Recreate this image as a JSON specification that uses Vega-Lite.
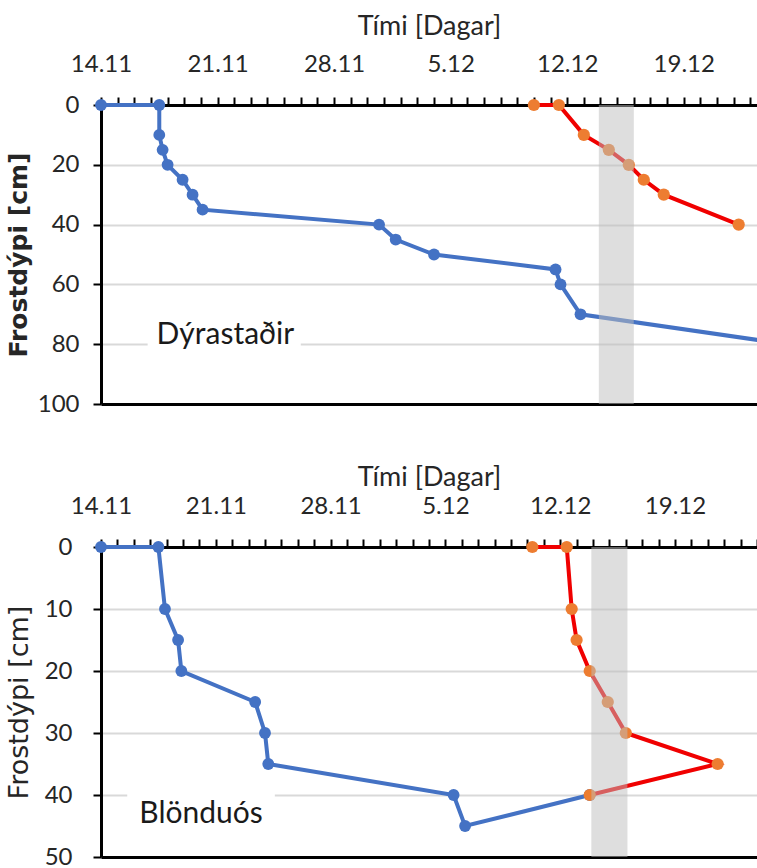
{
  "$schema": "https://vega.github.io/schema/vega-lite/v6.json",
  "padding": {"left": 5, "top": 12, "right": 0, "bottom": 0},
  "background": "white",
  "spacing": 47,
  "datasets": {
    "dyr": [
      {"series": "Frost", "seq": 1, "day": 0, "depth": 0},
      {"series": "Frost", "seq": 2, "day": 3.5, "depth": 0},
      {"series": "Frost", "seq": 3, "day": 3.5, "depth": 10},
      {"series": "Frost", "seq": 4, "day": 3.7, "depth": 15},
      {"series": "Frost", "seq": 5, "day": 4.0, "depth": 20},
      {"series": "Frost", "seq": 6, "day": 4.9, "depth": 25},
      {"series": "Frost", "seq": 7, "day": 5.5, "depth": 30},
      {"series": "Frost", "seq": 8, "day": 6.1, "depth": 35},
      {"series": "Frost", "seq": 9, "day": 16.7, "depth": 40},
      {"series": "Frost", "seq": 10, "day": 17.7, "depth": 45},
      {"series": "Frost", "seq": 11, "day": 20.0, "depth": 50},
      {"series": "Frost", "seq": 12, "day": 27.3, "depth": 55},
      {"series": "Frost", "seq": 13, "day": 27.6, "depth": 60},
      {"series": "Frost", "seq": 14, "day": 28.8, "depth": 70},
      {"series": "Frost", "seq": 15, "day": 41.2, "depth": 80},
      {"series": "Þiðnun", "seq": 1, "day": 26.0, "depth": 0},
      {"series": "Þiðnun", "seq": 2, "day": 27.5, "depth": 0},
      {"series": "Þiðnun", "seq": 3, "day": 29.0, "depth": 10},
      {"series": "Þiðnun", "seq": 4, "day": 30.5, "depth": 15},
      {"series": "Þiðnun", "seq": 5, "day": 31.7, "depth": 20},
      {"series": "Þiðnun", "seq": 6, "day": 32.6, "depth": 25},
      {"series": "Þiðnun", "seq": 7, "day": 33.8, "depth": 30},
      {"series": "Þiðnun", "seq": 8, "day": 38.3, "depth": 40}
    ],
    "blo": [
      {"series": "Frost", "seq": 1, "day": 0, "depth": 0},
      {"series": "Frost", "seq": 2, "day": 3.5, "depth": 0},
      {"series": "Frost", "seq": 3, "day": 3.9, "depth": 10},
      {"series": "Frost", "seq": 4, "day": 4.7, "depth": 15},
      {"series": "Frost", "seq": 5, "day": 4.9, "depth": 20},
      {"series": "Frost", "seq": 6, "day": 9.4, "depth": 25},
      {"series": "Frost", "seq": 7, "day": 10.0, "depth": 30},
      {"series": "Frost", "seq": 8, "day": 10.2, "depth": 35},
      {"series": "Frost", "seq": 9, "day": 21.5, "depth": 40},
      {"series": "Frost", "seq": 10, "day": 22.2, "depth": 45},
      {"series": "Frost", "seq": 11, "day": 29.8, "depth": 40},
      {"series": "Þiðnun", "seq": 1, "day": 26.3, "depth": 0},
      {"series": "Þiðnun", "seq": 2, "day": 28.4, "depth": 0},
      {"series": "Þiðnun", "seq": 3, "day": 28.7, "depth": 10},
      {"series": "Þiðnun", "seq": 4, "day": 29.0, "depth": 15},
      {"series": "Þiðnun", "seq": 5, "day": 29.8, "depth": 20},
      {"series": "Þiðnun", "seq": 6, "day": 30.9, "depth": 25},
      {"series": "Þiðnun", "seq": 7, "day": 32.0, "depth": 30},
      {"series": "Þiðnun", "seq": 8, "day": 37.6, "depth": 35},
      {"series": "Þiðnun", "seq": 9, "day": 29.8, "depth": 40}
    ],
    "bands": [
      {"site": "Dýrastaðir", "start": 29.9, "end": 32.0},
      {"site": "Blönduós", "start": 29.9, "end": 32.1}
    ],
    "labels": [
      {"site": "Dýrastaðir", "day": 7.47, "depth": 76.8, "x0": 2.8, "x1": 12.0, "y0": 66.6, "y1": 86.6},
      {"site": "Blönduós", "day": 6.1, "depth": 43.0, "x0": 1.6, "x1": 10.6, "y0": 37.5, "y1": 49.5}
    ]
  },
  "config": {
    "view": {"stroke": null},
    "axis": {
      "domainColor": "black",
      "domainWidth": 3,
      "tickColor": "black",
      "tickWidth": 2,
      "tickSize": 8,
      "gridColor": "#d9d9d9",
      "gridWidth": 2,
      "labelFont": "Lato",
      "labelFontSize": 24,
      "labelColor": "#262626",
      "titleFont": "Lato",
      "titleColor": "#262626",
      "titleFontWeight": "normal"
    }
  },
  "vconcat": [
    {
      "width": 656,
      "height": 299,
      "resolve": {"axis": {"x": "independent"}},
      "layer": [
        {
          "data": {"name": "labels"},
          "transform": [{"filter": "datum.site === 'Dýrastaðir'"}],
          "mark": {"type": "rect", "color": "white"},
          "encoding": {
            "x": {"field": "x0", "type": "quantitative", "axis": null, "scale": {"domain": [0, 39.4], "nice": false, "zero": false}},
            "x2": {"field": "x1"},
            "y": {"field": "y0", "type": "quantitative", "scale": {"domain": [0, 100], "reverse": true, "nice": false}},
            "y2": {"field": "y1"}
          }
        },
        {
          "data": {"name": "labels"},
          "transform": [{"filter": "datum.site === 'Dýrastaðir'"}],
          "mark": {"type": "text", "font": "Lato", "fontSize": 30, "color": "#1a1a1a", "align": "center", "baseline": "middle"},
          "encoding": {
            "x": {"field": "day", "type": "quantitative", "axis": null},
            "y": {"field": "depth", "type": "quantitative"},
            "text": {"field": "site"}
          }
        },
        {
          "data": {"name": "dyr"},
          "transform": [{"filter": "datum.series === 'Frost'"}],
          "mark": {"type": "line", "color": "#4472C4", "strokeWidth": 4},
          "encoding": {
            "x": {
              "field": "day", "type": "quantitative",
              "axis": {
                "orient": "top",
                "title": "Tími [Dagar]",
                "titleFontSize": 27,
                "titlePadding": 12,
                "values": [0,1,2,3,4,5,6,7,8,9,10,11,12,13,14,15,16,17,18,19,20,21,22,23,24,25,26,27,28,29,30,31,32,33,34,35,36,37,38,39],
                "labelExpr": "datum.value % 7 === 0 ? ['14.11','21.11','28.11','5.12','12.12','19.12'][datum.value / 7] : ''",
                "labelOverlap": false,
                "labelFlush": false,
                "labelPadding": 21,
                "gridOpacity": {"condition": {"test": "datum.value % 7 === 0", "value": 1}, "value": 0}
              }
            },
            "y": {
              "field": "depth", "type": "quantitative",
              "axis": {
                "title": "Frostdýpi [cm]",
                "titleFont": "DejaVu Sans",
                "titleFontSize": 25,
                "titleFontWeight": "bold",
                "titlePadding": 6,
                "values": [0, 20, 40, 60, 80, 100],
                "labelPadding": 14
              }
            },
            "order": {"field": "seq", "type": "quantitative"}
          }
        },
        {
          "data": {"name": "dyr"},
          "transform": [{"filter": "datum.series === 'Frost' && datum.day <= 39.4"}],
          "mark": {"type": "point", "filled": true, "color": "#4472C4", "opacity": 1, "size": 140},
          "encoding": {
            "x": {"field": "day", "type": "quantitative", "axis": null},
            "y": {"field": "depth", "type": "quantitative"}
          }
        },
        {
          "data": {"name": "dyr"},
          "transform": [{"filter": "datum.series === 'Þiðnun'"}],
          "mark": {"type": "line", "color": "#F00000", "strokeWidth": 4},
          "encoding": {
            "x": {"field": "day", "type": "quantitative", "axis": null},
            "y": {"field": "depth", "type": "quantitative"},
            "order": {"field": "seq", "type": "quantitative"}
          }
        },
        {
          "data": {"name": "dyr"},
          "transform": [{"filter": "datum.series === 'Þiðnun'"}],
          "mark": {"type": "point", "filled": true, "color": "#ED7D31", "opacity": 1, "size": 150},
          "encoding": {
            "x": {"field": "day", "type": "quantitative", "axis": null},
            "y": {"field": "depth", "type": "quantitative"}
          }
        },
        {
          "data": {"name": "bands"},
          "transform": [{"filter": "datum.site === 'Dýrastaðir'"}],
          "mark": {"type": "rect", "color": "#bdbdbd", "opacity": 0.5},
          "encoding": {
            "x": {"field": "start", "type": "quantitative", "axis": {"orient": "bottom", "labels": false, "ticks": false, "grid": false, "title": null, "domain": true}},
            "x2": {"field": "end"}
          }
        }
      ]
    },
    {
      "width": 656,
      "height": 310,
      "resolve": {"axis": {"x": "independent"}},
      "layer": [
        {
          "data": {"name": "labels"},
          "transform": [{"filter": "datum.site === 'Blönduós'"}],
          "mark": {"type": "rect", "color": "white"},
          "encoding": {
            "x": {"field": "x0", "type": "quantitative", "axis": null, "scale": {"domain": [0, 40.0], "nice": false, "zero": false}},
            "x2": {"field": "x1"},
            "y": {"field": "y0", "type": "quantitative", "scale": {"domain": [0, 50], "reverse": true, "nice": false}},
            "y2": {"field": "y1"}
          }
        },
        {
          "data": {"name": "labels"},
          "transform": [{"filter": "datum.site === 'Blönduós'"}],
          "mark": {"type": "text", "font": "Lato", "fontSize": 30, "color": "#1a1a1a", "align": "center", "baseline": "middle"},
          "encoding": {
            "x": {"field": "day", "type": "quantitative", "axis": null},
            "y": {"field": "depth", "type": "quantitative"},
            "text": {"field": "site"}
          }
        },
        {
          "data": {"name": "blo"},
          "transform": [{"filter": "datum.series === 'Frost'"}],
          "mark": {"type": "line", "color": "#4472C4", "strokeWidth": 4},
          "encoding": {
            "x": {
              "field": "day", "type": "quantitative",
              "axis": {
                "orient": "top",
                "title": "Tími [Dagar]",
                "titleFontSize": 27,
                "titlePadding": 3,
                "values": [0,1,2,3,4,5,6,7,8,9,10,11,12,13,14,15,16,17,18,19,20,21,22,23,24,25,26,27,28,29,30,31,32,33,34,35,36,37,38,39,40],
                "labelExpr": "datum.value % 7 === 0 ? ['14.11','21.11','28.11','5.12','12.12','19.12'][datum.value / 7] : ''",
                "labelOverlap": false,
                "labelFlush": false,
                "labelPadding": 21,
                "gridOpacity": {"condition": {"test": "datum.value % 7 === 0", "value": 1}, "value": 0}
              }
            },
            "y": {
              "field": "depth", "type": "quantitative",
              "axis": {
                "title": "Frostdýpi [cm]",
                "titleFont": "DejaVu Sans",
                "titleFontSize": 27,
                "titlePadding": 11,
                "values": [0, 10, 20, 30, 40, 50],
                "labelPadding": 21
              }
            },
            "order": {"field": "seq", "type": "quantitative"}
          }
        },
        {
          "data": {"name": "blo"},
          "transform": [{"filter": "datum.series === 'Frost'"}],
          "mark": {"type": "point", "filled": true, "color": "#4472C4", "opacity": 1, "size": 140},
          "encoding": {
            "x": {"field": "day", "type": "quantitative", "axis": null},
            "y": {"field": "depth", "type": "quantitative"}
          }
        },
        {
          "data": {"name": "blo"},
          "transform": [{"filter": "datum.series === 'Þiðnun'"}],
          "mark": {"type": "line", "color": "#F00000", "strokeWidth": 4},
          "encoding": {
            "x": {"field": "day", "type": "quantitative", "axis": null},
            "y": {"field": "depth", "type": "quantitative"},
            "order": {"field": "seq", "type": "quantitative"}
          }
        },
        {
          "data": {"name": "blo"},
          "transform": [{"filter": "datum.series === 'Þiðnun'"}],
          "mark": {"type": "point", "filled": true, "color": "#ED7D31", "opacity": 1, "size": 150},
          "encoding": {
            "x": {"field": "day", "type": "quantitative", "axis": null},
            "y": {"field": "depth", "type": "quantitative"}
          }
        },
        {
          "data": {"name": "bands"},
          "transform": [{"filter": "datum.site === 'Blönduós'"}],
          "mark": {"type": "rect", "color": "#bdbdbd", "opacity": 0.5},
          "encoding": {
            "x": {"field": "start", "type": "quantitative", "axis": {"orient": "bottom", "labels": false, "ticks": false, "grid": false, "title": null, "domain": true}},
            "x2": {"field": "end"}
          }
        }
      ]
    }
  ]
}
